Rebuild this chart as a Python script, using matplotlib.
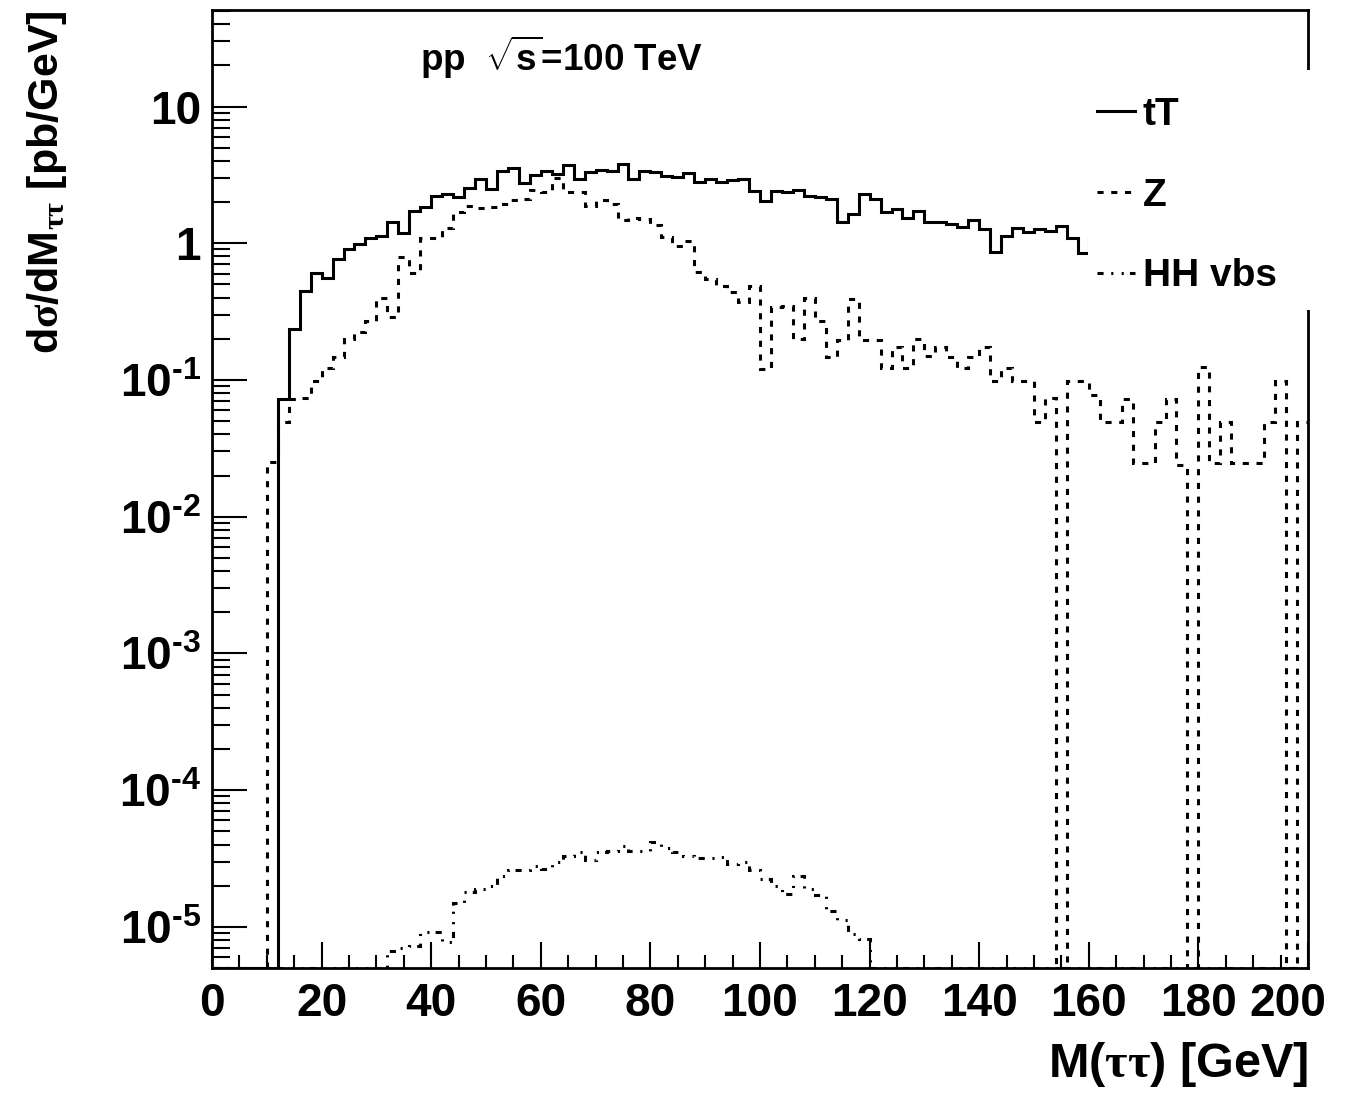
import numpy as np
import matplotlib
matplotlib.use("Agg")
import matplotlib.pyplot as plt
from matplotlib.lines import Line2D
from matplotlib.patches import Rectangle
from matplotlib.transforms import ScaledTranslation
from matplotlib.ticker import MultipleLocator, LogLocator, FixedLocator, FuncFormatter, NullFormatter

plt.rcParams["font.family"] = ["Liberation Sans", "DejaVu Sans"]
plt.rcParams["font.weight"] = "bold"
plt.rcParams["mathtext.fontset"] = "custom"
plt.rcParams["mathtext.rm"] = "Liberation Sans:bold"
plt.rcParams["mathtext.it"] = "Liberation Sans:bold"
plt.rcParams["mathtext.bf"] = "Liberation Sans:bold"
plt.rcParams["mathtext.sf"] = "Liberation Serif"

# 2 GeV bins in M(tautau), d sigma / dM in pb/GeV
bin_edges = np.arange(0, 202, 2)

tt_xsec = [0, 0, 0, 0, 0, 0, 0.072, 0.235, 0.448, 0.61,
           0.555, 0.764, 0.90, 0.98, 1.09, 1.13, 1.44, 1.18, 1.72, 1.85,
           2.22, 2.31, 2.18, 2.55, 2.94, 2.51, 3.38, 3.57, 2.78, 3.14,
           3.35, 3.20, 3.72, 2.94, 3.33, 3.44, 3.38, 3.78, 2.94, 3.38,
           3.33, 3.09, 3.07, 3.25, 2.81, 2.97, 2.81, 2.89, 2.94, 2.41,
           2.04, 2.41, 2.37, 2.45, 2.22, 2.18, 2.12, 1.42, 1.63, 2.31,
           2.10, 1.69, 1.77, 1.52, 1.71, 1.42, 1.42, 1.38, 1.32, 1.47,
           1.28, 0.86, 1.13, 1.30, 1.20, 1.27, 1.23, 1.34, 1.10, 0.855,
           1.07]

z_xsec = [0, 0, 0, 0, 0, 0.025, 0.049, 0.072, 0.074, 0.098,
          0.123, 0.148, 0.199, 0.224, 0.27, 0.40, 0.29, 0.79, 0.61, 1.10,
          1.10, 1.30, 1.69, 1.88, 1.80, 1.85, 1.95, 2.06, 2.12, 2.45,
          2.35, 3.02, 2.37, 2.35, 1.88, 2.08, 1.93, 1.47, 1.52, 1.50,
          1.35, 1.11, 0.95, 1.03, 0.62, 0.545, 0.49, 0.44, 0.37, 0.49,
          0.12, 0.342, 0.348, 0.199, 0.40, 0.27, 0.146, 0.196, 0.394, 0.196,
          0.196, 0.122, 0.173, 0.122, 0.199, 0.150, 0.173, 0.146, 0.122, 0.146,
          0.173, 0.098, 0.123, 0.098, 0.098, 0.049, 0.074, 0, 0.098, 0.098,
          0.077, 0.049, 0.049, 0.073, 0.0246, 0.0246, 0.049, 0.073, 0.0237, 0,
          0.124, 0.0246, 0.049, 0.0246, 0.0246, 0.0246, 0.049, 0.098, 0, 0.049]

hh_xsec = [0, 0, 0, 0, 0, 0, 0, 0, 0, 0,
           0, 0, 0, 0, 0, 0, 6.7e-6, 7.0e-6, 7.3e-6, 9.1e-6,
           9.1e-6, 7.7e-6, 1.5e-5, 1.8e-5, 1.9e-5, 2.0e-5, 2.35e-5, 2.6e-5, 2.6e-5, 2.8e-5,
           2.65e-5, 3.0e-5, 3.3e-5, 3.5e-5, 3.1e-5, 3.5e-5, 3.6e-5, 3.9e-5, 3.6e-5, 3.6e-5,
           4.2e-5, 3.8e-5, 3.5e-5, 3.3e-5, 3.2e-5, 3.2e-5, 3.25e-5, 2.9e-5, 3.0e-5, 2.6e-5,
           2.25e-5, 2.0e-5, 1.75e-5, 2.35e-5, 1.9e-5, 1.7e-5, 1.31e-5, 1.12e-5, 8.9e-6, 8.1e-6,
           0, 0, 0, 0, 0, 0, 0, 0, 0, 0,
           0, 0, 0, 0, 0, 0, 0, 0, 0, 0,
           0, 0, 0, 0, 0, 0, 0, 0, 0, 0,
           0, 0, 0, 0, 0, 0, 0, 0, 0, 0]

labels = ["tT", "Z", "HH vbs"]

ymin, ymax = 5e-6, 50.8
lw = 2.2
dash_z = (0, (2.0, 2.5))
dash_hh = (0, (2.0, 2.5, 0.7, 2.7, 0.7, 2.0))

fig = plt.figure(figsize=(13.55, 10.93), dpi=100)
ax = fig.add_axes([212 / 1355, 1 - 968 / 1093, 1096 / 1355, 958 / 1093])

# empty bins sit on the lower frame, as in ROOT log plots
ax.stairs(np.clip(tt_xsec, ymin, None), bin_edges[:len(tt_xsec) + 1], baseline=None,
          color="black", lw=lw, ls="-")
ax.stairs(np.clip(z_xsec, ymin, None), bin_edges, baseline=None,
          color="black", lw=lw, ls=dash_z)
ax.stairs(np.clip(hh_xsec, ymin, None), bin_edges, baseline=None,
          color="black", lw=lw, ls=dash_hh)

ax.set_yscale("log")
ax.set_xlim(0, 200)
ax.set_ylim(ymin, ymax)

for side in ax.spines.values():
    side.set_linewidth(2.0)

ax.xaxis.set_major_locator(FixedLocator(np.arange(0, 201, 20)))
ax.xaxis.set_minor_locator(MultipleLocator(5))
ax.yaxis.set_major_locator(FixedLocator([1e-5, 1e-4, 1e-3, 1e-2, 1e-1, 1, 10]))
ax.yaxis.set_minor_locator(LogLocator(base=10, subs=np.arange(2, 10), numticks=50))
ax.yaxis.set_minor_formatter(NullFormatter())


def decade_label(v, pos):
    if v >= 1:
        return "%d" % round(v)
    return r"$10^{\text{-%d}}$" % round(-np.log10(v))


ax.yaxis.set_major_formatter(FuncFormatter(decade_label))

ax.tick_params(which="both", direction="in", top=False, right=False, width=1.5)
ax.tick_params(axis="x", which="major", length=19, pad=10, labelsize=33)
ax.tick_params(axis="x", which="minor", length=9.5)
ax.tick_params(axis="y", which="major", length=25, pad=8, labelsize=33)
ax.tick_params(axis="y", which="minor", length=13)

ax.set_xlabel(r"M($\mathsf{\tau\tau}$) [GeV]", fontsize=35, fontweight="bold",
              loc="right", labelpad=10)
ax.set_ylabel(r"d$\mathsf{\sigma}$/dM$_{\mathsf{\tau\tau}}$ [pb/GeV]", fontsize=31,
              fontweight="bold", loc="top", labelpad=36)

fig.text(420 / 1355, 1 - 57 / 1093, r"pp  $\sqrt{s}$=100 TeV", fontsize=26.5,
         fontweight="bold", va="center", ha="left")

# white legend pad covering the upper right corner
ax.add_patch(Rectangle((0.799, 0.6868), 0.21, 0.2506, transform=ax.transAxes,
                       facecolor="white", edgecolor="none", zorder=4, clip_on=False))

handles = [Line2D([], [], color="black", lw=lw, ls="-"),
           Line2D([], [], color="black", lw=lw, ls=dash_z),
           Line2D([], [], color="black", lw=lw, ls=dash_hh)]
leg = ax.legend(handles, labels, loc="upper left", frameon=False,
                bbox_to_anchor=(1097 / 1355, 1 - 97 / 1093), bbox_transform=fig.transFigure,
                fontsize=28, borderpad=0, borderaxespad=0, handlelength=0.98,
                handletextpad=0.2, labelspacing=1.15)
leg.set_zorder(5)

# keep the last x label inside the frame like ROOT does
fig.canvas.draw()
for lab in ax.get_xticklabels():
    if lab.get_text() == "200":
        lab.set_transform(lab.get_transform() + ScaledTranslation(-0.2, 0, fig.dpi_scale_trans))

fig.savefig("out.png", dpi=100)
